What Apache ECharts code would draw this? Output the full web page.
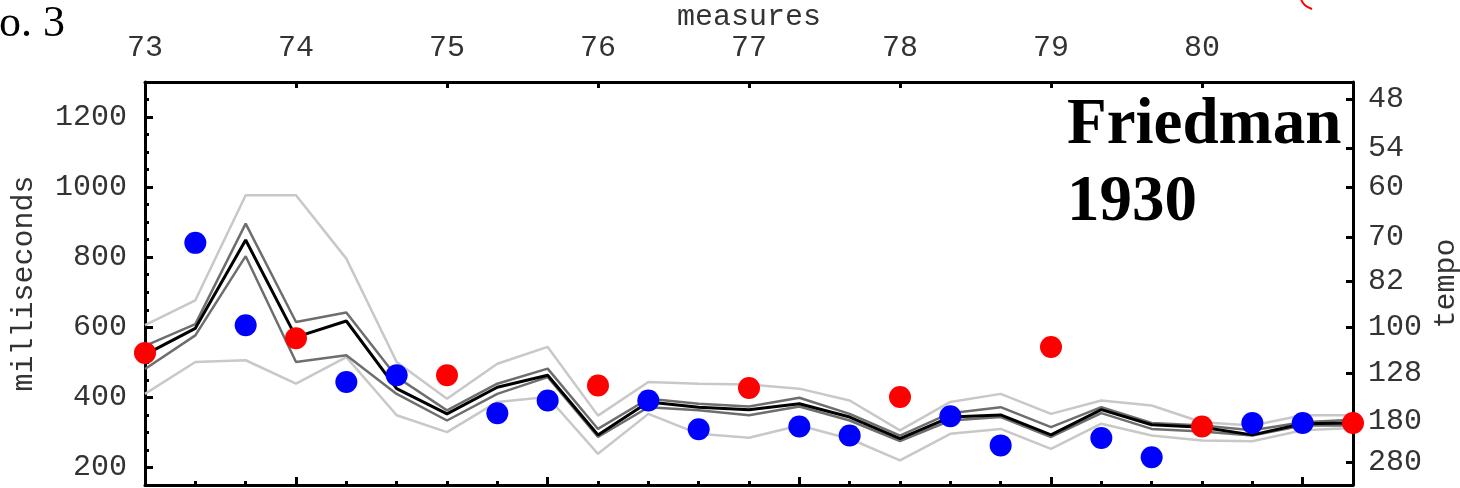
<!DOCTYPE html>
<html><head><meta charset="utf-8">
<script src="https://cdn.jsdelivr.net/npm/echarts@6/dist/echarts.min.js"></script>
<style>html,body{margin:0;padding:0;background:#fff}#c{width:1460px;height:488px}</style>
</head><body><div id="c"></div>
<script>
// beats (measure.beat), 3 beats per measure
const beats = ['73.1','73.2','73.3','74.1','74.2','74.3','75.1','75.2','75.3','76.1','76.2','76.3',
  '77.1','77.2','77.3','78.1','78.2','78.3','79.1','79.2','79.3','80.1','80.2','80.3','81.1'];
const measureTicks = [73,74,75,76,77,78,79,80];
const msTicks = [200,400,600,800,1000,1200];
const tempoTicks = [48,54,60,70,82,100,128,180,280];

// Friedman 1930 beat durations (ms)
const tapMs  = [527,841,606,569,444,463,463,355,391,434,391,309,427,317,291,401,346,263,544,284,229,317,327,327,327];
// average of all performances and its bands (ms)
const meanMs = [522,597,849,572,618,425,353,429,463,293,387,372,365,382,344,282,344,350,293,365,322,315,293,325,327];
const seUpper = [547,609,896,615,642,458,363,439,482,310,396,382,374,399,353,291,355,372,315,372,327,320,306,329,336];
const seLower = [481,577,803,501,520,410,334,410,458,287,372,363,349,374,334,275,334,344,287,355,310,303,291,320,320];
const sdUpper = [606,677,977,977,796,501,396,496,544,348,444,439,437,425,391,306,387,410,353,391,377,329,320,349,349];
const sdLower = [410,501,506,439,515,349,301,387,401,239,353,296,285,320,282,220,296,310,253,325,291,277,275,306,313];

const FONT = 'Liberation Mono';
const TXT = '#333';
const chart = echarts.init(document.getElementById('c'), null, {renderer:'canvas'});
const lbl = {fontFamily: FONT, fontSize: 30, color: TXT};
const lineS = (name, data, color, w, z) => ({
  name, type:'line', data, xAxisIndex:1, yAxisIndex:0, symbol:'none', silent:true, z,
  lineStyle:{color, width:w}, animation:false
});
chart.setOption({
  animation:false,
  textStyle:{fontFamily: FONT},
  grid:{left:145, right:107, top:82, bottom:3, containLabel:false, outerBoundsMode:'none'},
  xAxis:[
    {type:'value', position:'top', min:73, max:81, interval:1,
     name:'measures', nameLocation:'middle', nameGap:50, nameMoveOverlap:false,
     nameTextStyle:{fontFamily:FONT, fontSize:30, color:TXT},
     axisLine:{show:true, lineStyle:{color:'#000', width:3}},
     axisTick:{show:true, inside:true, length:6, lineStyle:{color:'#000', width:3}, customValues: measureTicks},
     axisLabel:Object.assign({margin:19, customValues: measureTicks, formatter:(v)=>String(v)}, lbl),
     splitLine:{show:false}},
    {type:'category', position:'bottom', data:beats, boundaryGap:false,
     axisLine:{show:true, onZero:false, lineStyle:{color:'#000', width:3}},
     axisTick:{show:true, inside:true, length:4, interval:0, lineStyle:{color:'#000', width:3}},
     axisLabel:{show:false}, splitLine:{show:false}},
    {type:'category', position:'bottom', data:beats, boundaryGap:false,
     axisLine:{show:false, onZero:false},
     axisTick:{show:true, inside:true, length:8, interval:(i)=> i % 5 === 3, lineStyle:{color:'#000', width:3}},
     axisLabel:{show:false}, splitLine:{show:false}}
  ],
  yAxis:[
    {type:'value', position:'left', min:150, max:1300,
     name:'milliseconds', nameLocation:'middle', nameGap:106, nameRotate:90, nameMoveOverlap:false,
     nameTextStyle:{fontFamily:FONT, fontSize:30, color:TXT},
     axisLine:{show:true, onZero:false, lineStyle:{color:'#000', width:3}},
     axisTick:{show:true, inside:true, length:8, lineStyle:{color:'#000', width:3}, customValues: msTicks},
     axisLabel:Object.assign({margin:18, customValues: msTicks, formatter:(v)=>String(v)}, lbl),
     splitLine:{show:false}},
    {type:'value', position:'right', min:150, max:1300,
     name:'tempo', nameLocation:'middle', nameGap:78, nameRotate:90, nameMoveOverlap:false,
     nameTextStyle:{fontFamily:FONT, fontSize:30, color:TXT},
     axisLine:{show:true, onZero:false, lineStyle:{color:'#000', width:3}},
     axisTick:{show:true, inside:true, length:7, lineStyle:{color:'#000', width:3}, customValues: tempoTicks.map(t=>60000/t)},
     axisLabel:Object.assign({margin:15, customValues: tempoTicks.map(t=>60000/t), formatter:(v)=> String(Math.round(60000/v))}, lbl),
     splitLine:{show:false}},
    {type:'value', position:'left', min:150, max:1300, interval:50,
     axisLine:{show:false}, axisTick:{show:true, inside:true, length:4, lineStyle:{color:'#000', width:3}},
     axisLabel:{show:false}, splitLine:{show:false}}
  ],
  series:[
    lineS('sdUpper', sdUpper, '#c8c8c8', 2.5, 1),
    lineS('sdLower', sdLower, '#c8c8c8', 2.5, 1),
    lineS('seUpper', seUpper, '#6e6e6e', 2.5, 2),
    lineS('seLower', seLower, '#6e6e6e', 2.5, 2),
    lineS('mean', meanMs, '#000', 3, 3),
    {name:'Friedman', type:'scatter', xAxisIndex:1, yAxisIndex:0, data:tapMs, symbol:'circle', symbolSize:22, z:5,
     itemStyle:{color:(p)=> p.dataIndex % 3 === 0 ? '#ff0000' : '#0000ff', opacity:1}}
  ],
  graphic:[
    {type:'text', left:-1, top:2, style:{text:'o. 3', font:'44px "Liberation Serif"', fill:'#000'}},
    {type:'text', x:1067, y:126, style:{text:'Friedman', font:'bold 65px "Liberation Serif"', fill:'#000', textVerticalAlign:'middle'}},
    {type:'text', x:1067, y:203, style:{text:'1930', font:'bold 65px "Liberation Serif"', fill:'#000', textVerticalAlign:'middle'}},
    {type:'bezierCurve', shape:{x1:1301, y1:-1, x2:1312, y2:9, cpx1:1303, cpy1:6}, style:{stroke:'#ff0000', lineWidth:2, fill:null}}
  ]
});
</script></body></html>
